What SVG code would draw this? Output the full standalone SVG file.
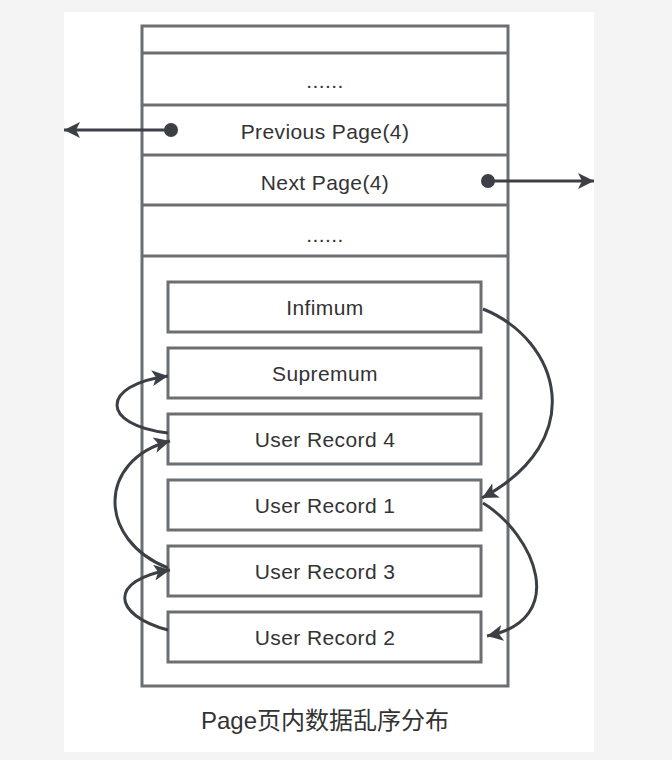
<svg xmlns="http://www.w3.org/2000/svg" width="672" height="760" viewBox="0 0 672 760">
<style>
.box{fill:#fff;stroke:#6b6e72;stroke-width:3}
.sep{stroke:#6b6e72;stroke-width:3}
.t{font-family:"Liberation Sans",Arial,sans-serif;font-size:21px;fill:#333;text-anchor:middle;letter-spacing:0.4px}
.cap{font-family:"Liberation Sans","Noto Sans CJK SC",sans-serif;font-size:24px;fill:#333;text-anchor:middle}
.conn{fill:none;stroke:#3c4046;stroke-width:3}
</style>
<defs>
<marker id="ah" markerUnits="userSpaceOnUse" markerWidth="18" markerHeight="16" refX="16" refY="8" orient="auto">
<path d="M0,0 L16,8 L0,16 L4,8 z" fill="#3c4046"/>
</marker>
</defs>
<rect x="0" y="0" width="672" height="760" fill="#f4f4f4"/>
<rect x="64" y="12" width="530" height="740" fill="#fff"/>
<g id="page">
<rect class="box" x="142" y="26" width="366" height="660"/>
<line class="sep" x1="142" y1="53" x2="508" y2="53"/>
<line class="sep" x1="142" y1="105" x2="508" y2="105"/>
<line class="sep" x1="142" y1="155" x2="508" y2="155"/>
<line class="sep" x1="142" y1="205" x2="508" y2="205"/>
<line class="sep" x1="142" y1="256" x2="508" y2="256"/>
<text class="t" x="325" y="88">......</text>
<text class="t" x="325" y="139">Previous Page(4)</text>
<text class="t" x="325" y="190">Next Page(4)</text>
<text class="t" x="325" y="242">......</text>
</g>
<g id="infimum"><rect class="box" x="168" y="282" width="313" height="50"/><text class="t" x="325" y="315">Infimum</text></g>
<g id="supremum"><rect class="box" x="168" y="348" width="313" height="50"/><text class="t" x="325" y="381">Supremum</text></g>
<g id="ur4"><rect class="box" x="168" y="414" width="313" height="50"/><text class="t" x="325" y="447">User Record 4</text></g>
<g id="ur1"><rect class="box" x="168" y="480" width="313" height="50"/><text class="t" x="325" y="513">User Record 1</text></g>
<g id="ur3"><rect class="box" x="168" y="546" width="313" height="50"/><text class="t" x="325" y="579">User Record 3</text></g>
<g id="ur2"><rect class="box" x="168" y="612" width="313" height="50"/><text class="t" x="325" y="645">User Record 2</text></g>
<g id="connectors">
<circle cx="171" cy="130" r="7" fill="#3c4046"/>
<line class="conn" x1="171" y1="130" x2="64" y2="130" marker-end="url(#ah)"/>
<circle cx="488" cy="181" r="7" fill="#3c4046"/>
<line class="conn" x1="488" y1="181" x2="594" y2="181" marker-end="url(#ah)"/>
<path class="conn" d="M483,309 C560,340 590,440 482,498" marker-end="url(#ah)"/>
<path class="conn" d="M483,503 C535,535 570,620 487,636" marker-end="url(#ah)"/>
<path class="conn" d="M168,630 C112,615 108,580 170,570" marker-end="url(#ah)"/>
<path class="conn" d="M168,568 C97,540 97,460 170,441" marker-end="url(#ah)"/>
<path class="conn" d="M168,433 C100,425 100,385 168,376" marker-end="url(#ah)"/>
</g>
<text class="cap" x="325" y="729">Page页内数据乱序分布</text>
</svg>
